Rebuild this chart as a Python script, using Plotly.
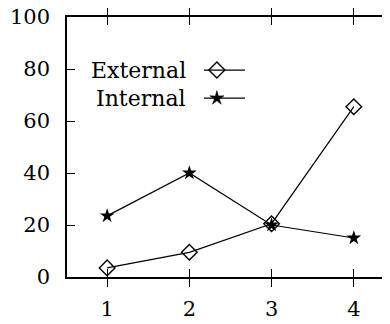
import plotly.graph_objects as go
import math

categories = [1, 2, 3, 4]
external = [3.5, 9.5, 20.5, 65.5]
internal = [23.5, 40, 20, 15]
y_ticks = [0, 20, 40, 60, 80, 100]
series_names = ["External", "Internal"]

FONT = dict(family="DejaVu Serif", size=21, color="black")
LFONT = dict(family="DejaVu Serif", size=22, color="black")

fig = go.Figure()
fig.add_trace(go.Scatter(x=categories, y=external, mode="lines+markers",
                         line=dict(color="black", width=1.2),
                         marker=dict(symbol="diamond-open", size=12, color="black",
                                     line=dict(width=1.4, color="black")),
                         name=series_names[0], showlegend=False))
fig.add_trace(go.Scatter(x=categories, y=internal, mode="lines+markers",
                         line=dict(color="black", width=1.2),
                         marker=dict(symbol="star", size=11, color="black",
                                     line=dict(width=0, color="black")),
                         name=series_names[1], showlegend=False))

# invisible trace to activate right-side tick axis
fig.add_trace(go.Scatter(x=[categories[0]], y=[y_ticks[0]], yaxis="y2", mode="markers",
                         marker=dict(opacity=0), showlegend=False, hoverinfo="skip"))

# page body has an 8px margin, so the figure is offset by 8px; compensate here
fig.update_layout(
    width=382, height=316,
    margin=dict(l=59, r=0, t=9, b=47, autoexpand=False),
    paper_bgcolor="white", plot_bgcolor="white",
    font=FONT,
    xaxis=dict(range=[0.512, 4.44], tickvals=categories, ticks="inside", ticklen=8,
               tickcolor="black", showline=True, linecolor="black", linewidth=1.5,
               mirror="allticks", showgrid=False, zeroline=False, tickfont=FONT,
               ticklabelstandoff=12, automargin=False, ticklabeloverflow="allow"),
    yaxis=dict(range=[0, 100], tickvals=y_ticks, ticks="inside", ticklen=8,
               tickcolor="black", showline=True, linecolor="black", linewidth=1.5,
               showgrid=False, zeroline=False, tickfont=FONT, ticklabelstandoff=11,
               automargin=False, ticklabeloverflow="allow"),
    yaxis2=dict(range=[0, 100], tickvals=y_ticks, overlaying="y", side="right",
                ticks="inside", ticklen=8, tickcolor="black", showline=False,
                showticklabels=False, showgrid=False, zeroline=False, automargin=False),
)

# manual legend: text left, sample to the right (paper coordinates)
legend_rows = [(0.796, "diamond"), (0.688, "star")]
for (yp, kind), name in zip(legend_rows, series_names):
    fig.add_annotation(x=0.375, y=yp, xref="paper", yref="paper", text=name,
                       showarrow=False, xanchor="right", yanchor="middle", font=LFONT)
    fig.add_shape(type="line", xref="paper", yref="paper", x0=0.424, x1=0.551,
                  y0=yp, y1=yp, line=dict(color="black", width=1.2))
    if kind == "diamond":
        path = "M -8 0 L 0 8 L 8 0 L 0 -8 Z"
        fill = "rgba(0,0,0,0)"
        lw = 1.4
    else:
        pts = []
        for i in range(10):
            r = 7.5 if i % 2 == 0 else 2.6
            a = math.pi / 2 + i * math.pi / 5
            pts.append((r * math.cos(a), r * math.sin(a)))
        path = "M " + " L ".join(f"{px:.2f} {py:.2f}" for px, py in pts) + " Z"
        fill = "black"
        lw = 0.5
    fig.add_shape(type="path", xref="paper", yref="paper", xsizemode="pixel",
                  ysizemode="pixel", xanchor=0.464, yanchor=yp, path=path,
                  fillcolor=fill, line=dict(color="black", width=lw))

fig.write_html("out.html")
